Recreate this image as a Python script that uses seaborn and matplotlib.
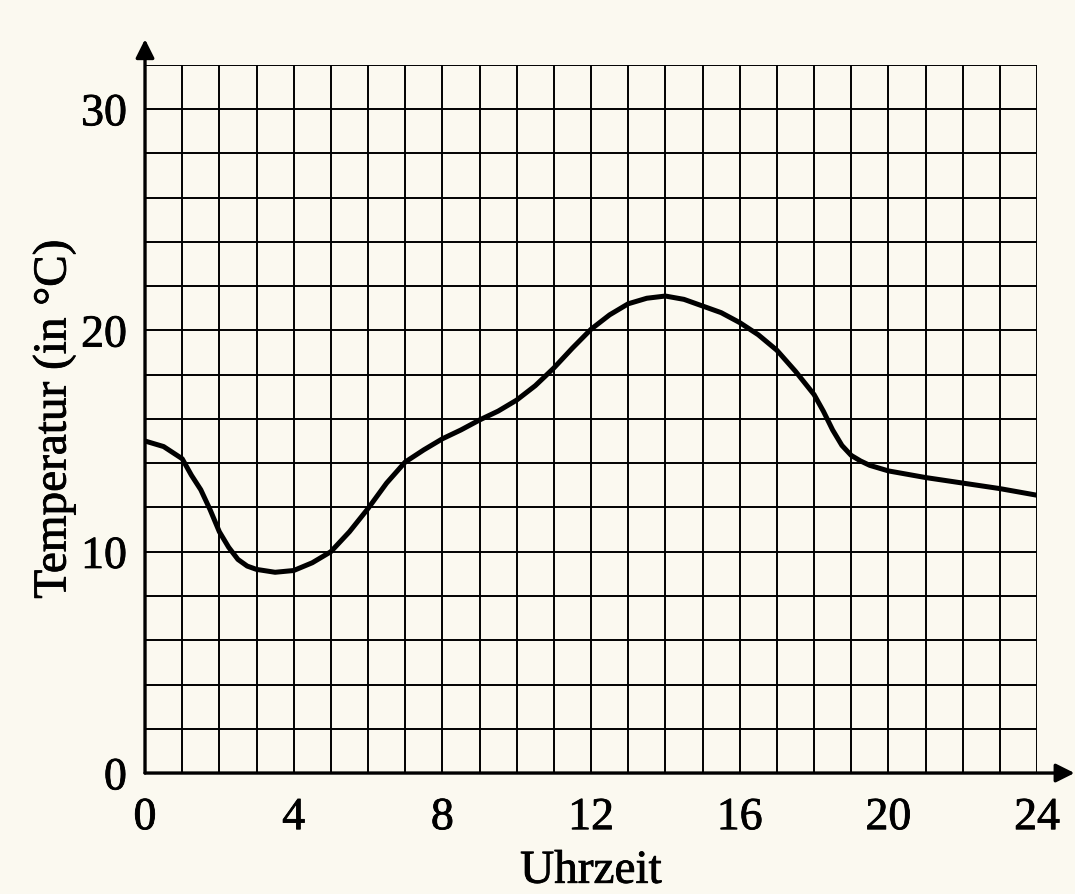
import numpy as np
import pandas as pd
import matplotlib
matplotlib.use("Agg")
import matplotlib.pyplot as plt
import matplotlib.patheffects as pe
import seaborn as sns

# values (hour of day, temperature in deg C)
uhrzeit = [0, 0.5, 1, 1.25, 1.5, 1.75, 2, 2.25, 2.5, 2.75, 3, 3.5, 4, 4.5, 5,
           5.5, 6, 6.5, 7, 7.5, 8, 8.5, 9, 9.5, 10, 10.5, 11, 11.5, 12, 12.5,
           13, 13.5, 14, 14.5, 15, 15.5, 16, 16.5, 17, 17.5, 18, 18.25, 18.5,
           18.75, 19, 19.25, 19.5, 20, 21, 22, 23, 24]
temperatur = [15.0, 14.75, 14.2, 13.45, 12.8, 11.9, 10.9, 10.2, 9.65, 9.35,
              9.2, 9.07, 9.15, 9.5, 10.0, 10.9, 11.95, 13.1, 14.05, 14.6, 15.1,
              15.5, 15.95, 16.35, 16.85, 17.5, 18.3, 19.2, 20.05, 20.7, 21.2,
              21.45, 21.55, 21.4, 21.1, 20.8, 20.35, 19.8, 19.1, 18.15, 17.1,
              16.35, 15.5, 14.8, 14.35, 14.1, 13.9, 13.65, 13.35, 13.1, 12.85,
              12.55]

x_ticks = [0, 4, 8, 12, 16, 20, 24]
y_ticks = [0, 10, 20, 30]

bg = "#fbf9f0"

sns.set_style("white")
plt.rcParams["font.family"] = ["Liberation Serif", "DejaVu Serif"]
plt.rcParams["text.color"] = "black"
plt.rcParams["axes.labelcolor"] = "black"
plt.rcParams["xtick.color"] = "black"
plt.rcParams["ytick.color"] = "black"

fig = plt.figure(figsize=(10.75, 8.94), dpi=100, facecolor=bg)
ax = fig.add_axes([0.1349, 0.1353, 0.8298, 0.7923])
ax.set_facecolor(bg)

df = pd.DataFrame({"Uhrzeit": uhrzeit, "Temperatur": temperatur})
sns.lineplot(data=df, x="Uhrzeit", y="Temperatur", ax=ax, color="black",
             linewidth=3.6, zorder=5, estimator=None)
ax.lines[-1].set_solid_joinstyle("round")

ax.set_xlim(0, 24)
ax.set_ylim(0, 32)
ax.set_xticks(x_ticks)
ax.set_yticks(y_ticks)
ax.set_xticks(np.arange(0, 25, 1), minor=True)
ax.set_yticks(np.arange(0, 33, 2), minor=True)
ax.grid(which="both", color="black", linewidth=1.4)
ax.tick_params(which="minor", length=0)
ax.tick_params(which="major", length=9, width=2, color="black", direction="out",
               labelsize=33)
ax.tick_params(axis="x", pad=8)
ax.tick_params(axis="y", pad=4)

for s in ax.spines.values():
    s.set_visible(False)

# axes with arrow heads
ax.annotate("", xy=(1.042, 0), xytext=(0, 0), xycoords="axes fraction",
            arrowprops=dict(arrowstyle="-|>", color="black", lw=2.4,
                            mutation_scale=28, shrinkA=0, shrinkB=0),
            annotation_clip=False, zorder=6)
ax.annotate("", xy=(0, 1.036), xytext=(0, 0), xycoords="axes fraction",
            arrowprops=dict(arrowstyle="-|>", color="black", lw=2.4,
                            mutation_scale=28, shrinkA=0, shrinkB=0),
            annotation_clip=False, zorder=6)

ax.set_xlabel("Uhrzeit", fontsize=34, labelpad=8)
ax.set_ylabel("Temperatur (in °C)", fontsize=34, labelpad=4)

# printed look: slightly heavier strokes
heavy = [pe.withStroke(linewidth=0.6, foreground="black")]
for t in ax.get_xticklabels() + ax.get_yticklabels() + [ax.xaxis.label, ax.yaxis.label]:
    t.set_path_effects(heavy)

fig.savefig("out.png", dpi=100, facecolor=bg)
